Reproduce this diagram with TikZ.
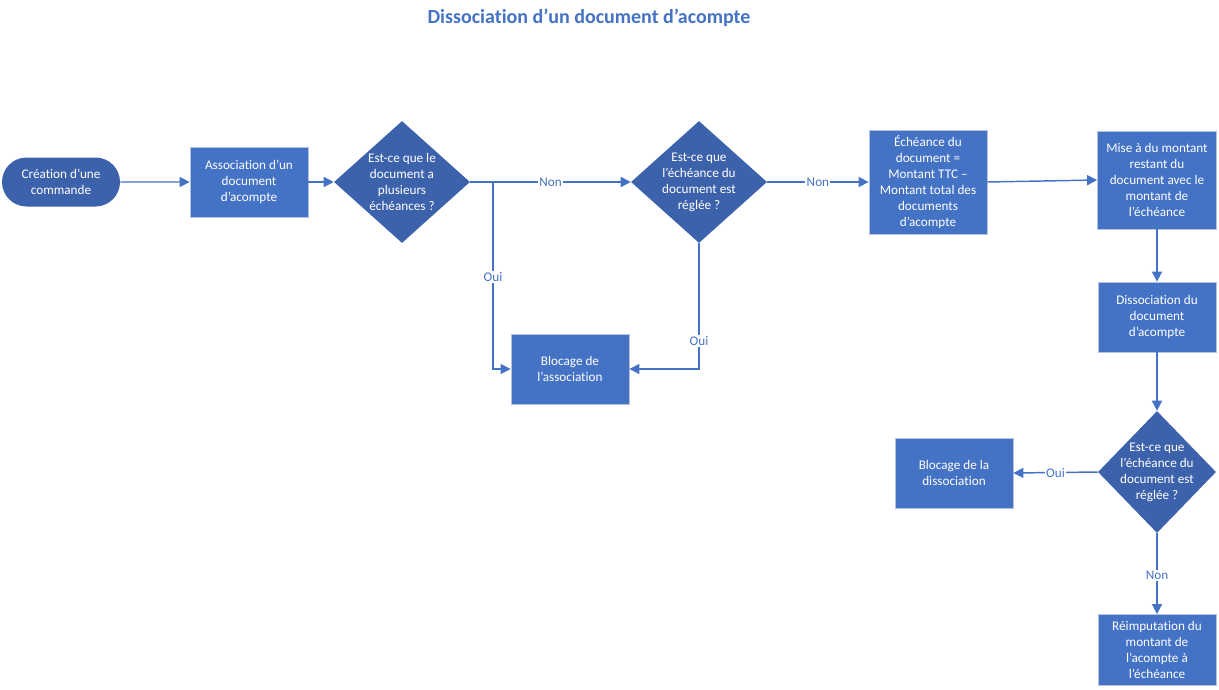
\documentclass[tikz,border=0pt]{standalone}
\usepackage{fontspec}
\setmainfont{Carlito}[Ligatures={NoCommon}]
\usetikzlibrary{shapes.geometric,shapes.misc,arrows.meta}
\definecolor{boxblue}{HTML}{4472C4}
\definecolor{diablue}{HTML}{3D62AC}
\definecolor{boxedge}{HTML}{B4C3DF}
\definecolor{lineblue}{HTML}{4472C4}
\tikzset{
  box/.style={rectangle, fill=boxblue, draw=boxedge, line width=0.6pt, text=white, align=center, inner sep=0pt, font=\fontsize{9.9}{12}\selectfont},
  term/.style={rounded rectangle, fill=diablue, draw=none, text=white, align=center, inner sep=0pt, minimum width=88.5pt, minimum height=36.75pt, font=\fontsize{9.9}{12}\selectfont},
  dia/.style={diamond, fill=diablue, draw=none, inner sep=0pt, minimum width=102pt, minimum height=91.5pt},
  dtext/.style={text=white, align=center, inner sep=0pt, font=\fontsize{9.9}{12}\selectfont},
  conn/.style={draw=lineblue, line width=1.1pt, -{Triangle[length=7.5pt,width=7.5pt]}},
  lbl/.style={fill=white, text=lineblue, inner sep=1pt, font=\fontsize{9.9}{12}\selectfont},
}
\begin{document}
\begin{tikzpicture}[x=0.75pt,y=-0.75pt]
\useasboundingbox (0,0) rectangle (1219,689);
\node[font=\fontsize{15}{18}\selectfont\bfseries, text=boxblue] (title) at (589,18) {Dissociation d’un document d’acompte};

\node[term] (start) at (61,182) {Création d’une\\commande};
\node[box, minimum width=88.5pt, minimum height=52.5pt] (assoc) at (249,182) {Association d’un\\document\\d’acompte};
\node[dia] (d1) at (402,182) {};
\node[dtext] (d1t) at (d1.center) {Est-ce que le\\document a\\plusieurs\\échéances ?};
\node[dia] (d2) at (699,182) {};
\node[dtext] (d2t) at (d2.center) {Est-ce que\\l’échéance du\\document est\\réglée ?};
\node[box, minimum width=88.5pt, minimum height=78pt] (ech) at (928,182) {Échéance du\\document =\\Montant TTC –\\Montant total des\\documents\\d’acompte};
\node[box, minimum width=89.25pt, minimum height=73.5pt] (mise) at (1157,180) {Mise à du montant\\restant du\\document avec le\\montant de\\l’échéance};
\node[box, minimum width=88.5pt, minimum height=52.5pt] (diss) at (1157,317) {Dissociation du\\document\\d’acompte};
\node[dia, minimum width=88.5pt, minimum height=91.5pt] (d3) at (1157,472) {};
\node[dtext] (d3t) at (d3.center) {Est-ce que\\l’échéance du\\document est\\réglée ?};
\node[box, minimum width=88.5pt, minimum height=52.5pt] (bdiss) at (954,473) {Blocage de la\\dissociation};
\node[box, minimum width=88.5pt, minimum height=53.25pt] (reimp) at (1157,650) {Réimputation du\\montant de\\l’acompte à\\l’échéance};
\node[box, minimum width=88.5pt, minimum height=52.5pt] (bassoc) at (570,369) {Blocage de\\l’association};

\coordinate (j1) at (493,182);
\draw[conn] (start) -- (assoc);
\draw[conn] (assoc) -- (d1);
\draw[conn] (d1) -- node[lbl, pos=0.5] {Non} (d2);
\draw[conn] (j1) |- node[lbl, pos=0.255] {Oui} (bassoc.west);
\draw[conn] (d2.south) |- node[lbl, pos=0.39] {Oui} (bassoc.east);
\draw[conn] (d2) -- node[lbl, pos=0.5] {Non} (ech);
\draw[conn] (ech.east) -- (mise.west);
\draw[conn] (mise) -- (diss);
\draw[conn] (diss) -- (d3);
\draw[conn] (d3.west) -- node[lbl, pos=0.5] {Oui} (bdiss.east);
\draw[conn] (d3.south) -- node[lbl, pos=0.52] {Non} (reimp.north);
\end{tikzpicture}
\end{document}
